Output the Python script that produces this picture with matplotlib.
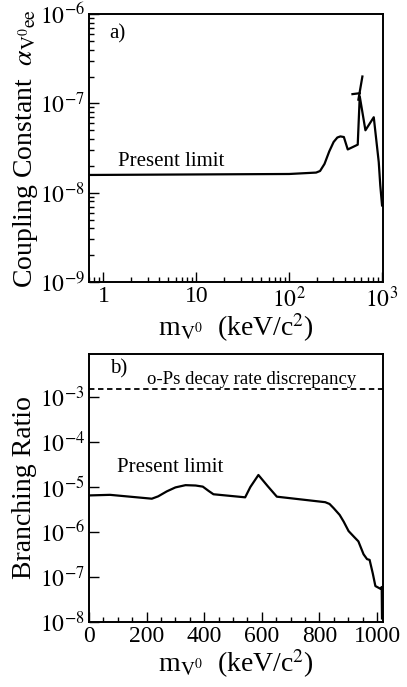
import matplotlib
matplotlib.use("Agg")
import matplotlib.pyplot as plt
import numpy as np
from matplotlib.ticker import LogLocator, FixedLocator, FixedFormatter, MultipleLocator, NullFormatter

plt.rcParams['font.family'] = ['Liberation Serif', 'DejaVu Serif']
plt.rcParams['mathtext.fontset'] = 'stix'

# Panel a: coupling constant limit vs mass (log-log)
mass_a = [0.7, 100, 195, 215, 240, 270, 301, 330, 356, 388, 427, 547, 575, 662, 814,
          921, 957, 1000]
alpha_a = [1.58e-8, 1.62e-8, 1.68e-8, 1.75e-8, 2.1e-8, 2.9e-8, 3.7e-8, 4.15e-8,
           4.27e-8, 4.2e-8, 3.05e-8, 3.45e-8, 1.2e-7, 5.0e-8, 7.0e-8, 2.2e-8, 1.2e-8, 7.2e-9]
# extra small segments near the peak
mass_a2 = [480, 575]
alpha_a2 = [1.27e-7, 1.3e-7]
mass_a3 = [556, 614]
alpha_a3 = [1.1e-7, 2.0e-7]

xticks_a = [1, 10, 100, 1000]
xticklabels_a = ['1', '10', r'$10^{2}$', r'$10^{3}$']
yticks_a = [1e-9, 1e-8, 1e-7, 1e-6]
yticklabels_a = [r'$10^{-9}$', r'$10^{-8}$', r'$10^{-7}$', r'$10^{-6}$']

# Panel b: branching ratio vs mass (linear x, log y)
mass_b = [0, 73, 218, 240, 270, 300, 335, 370, 395, 415, 432, 542, 560, 588, 620, 652,
          820, 835, 849, 870, 884, 901, 920, 935, 953, 965, 974, 985, 994, 1011, 1016, 1017]
br_b = [6.5e-6, 6.7e-6, 5.5e-6, 6.2e-6, 8.0e-6, 9.8e-6, 1.1e-5, 1.08e-5, 1.02e-5, 8.2e-6,
        6.9e-6, 5.9e-6, 1.0e-5, 1.85e-5, 1.05e-5, 6.1e-6,
        4.6e-6, 4.2e-6, 3.4e-6, 2.4e-6, 1.7e-6, 1.05e-6, 7.8e-7, 6.2e-7, 3.2e-7, 2.5e-7,
        2.4e-7, 1.2e-7, 6.3e-8, 5.5e-8, 6.0e-8, 1.2e-8]
ops_discrepancy = 1.5e-3
xticks_b = [0, 200, 400, 600, 800, 1000]
xticklabels_b = ['0', '200', '400', '600', '800', '1000']
yticks_b = [1e-8, 1e-7, 1e-6, 1e-5, 1e-4, 1e-3]
yticklabels_b = [r'$10^{-8}$', r'$10^{-7}$', r'$10^{-6}$', r'$10^{-5}$', r'$10^{-4}$', r'$10^{-3}$']

fig = plt.figure(figsize=(4.07, 6.87), dpi=100)
axa = fig.add_axes([0.2187, 0.5895, 0.722, 0.390])
axb = fig.add_axes([0.2187, 0.0946, 0.722, 0.390])

lw = 1.6
tick_fs = 17
label_fs = 20
text_fs = 15

xlab = r'm$_{\mathrm{V}^0}$  (keV/c$^2$)'

# ---- panel a
axa.plot(mass_a, alpha_a, color='black', lw=lw)
axa.plot(mass_a2, alpha_a2, color='black', lw=lw)
axa.plot(mass_a3, alpha_a3, color='black', lw=lw)
axa.set_xscale('log')
axa.set_yscale('log')
axa.set_xlim(0.7, 1020)
axa.set_ylim(1e-9, 1e-6)
axa.xaxis.set_major_locator(FixedLocator(xticks_a))
axa.xaxis.set_major_formatter(FixedFormatter(xticklabels_a))
axa.xaxis.set_minor_locator(LogLocator(base=10, subs=np.arange(2, 10)))
axa.xaxis.set_minor_formatter(NullFormatter())
axa.yaxis.set_major_locator(FixedLocator(yticks_a))
axa.yaxis.set_major_formatter(FixedFormatter(yticklabels_a))
axa.yaxis.set_minor_locator(LogLocator(base=10, subs=np.arange(2, 10)))
axa.yaxis.set_minor_formatter(NullFormatter())
axa.set_xlabel(xlab, fontsize=label_fs, labelpad=0)
axa.set_ylabel(r'Coupling Constant  $\alpha_{\mathrm{V}^0\mathrm{ee}}$', fontsize=label_fs, labelpad=0)
axa.text(0.07, 0.925, 'a)', transform=axa.transAxes, fontsize=text_fs, va='center')
axa.text(0.10, 0.45, 'Present limit', transform=axa.transAxes, fontsize=text_fs, va='center')

# ---- panel b
axb.plot(mass_b, br_b, color='black', lw=lw)
axb.axhline(ops_discrepancy, color='black', lw=1.3, ls=(0, (3, 2)))
axb.set_yscale('log')
axb.set_xlim(0, 1020)
axb.set_ylim(1e-8, 9e-3)
axb.xaxis.set_major_locator(FixedLocator(xticks_b))
axb.xaxis.set_major_formatter(FixedFormatter(xticklabels_b))
axb.xaxis.set_minor_locator(MultipleLocator(50))
axb.yaxis.set_major_locator(FixedLocator(yticks_b))
axb.yaxis.set_major_formatter(FixedFormatter(yticklabels_b))
axb.yaxis.set_minor_locator(LogLocator(base=10, subs=np.arange(2, 10)))
axb.yaxis.set_minor_formatter(NullFormatter())
axb.set_xlabel(xlab, fontsize=label_fs, labelpad=0)
axb.set_ylabel('Branching Ratio', fontsize=label_fs, labelpad=2)
axb.text(0.07, 0.945, 'b)', transform=axb.transAxes, fontsize=text_fs, va='center')
axb.text(0.555, 0.905, 'o-Ps decay rate discrepancy', transform=axb.transAxes,
         fontsize=13.5, ha='center', va='center')
axb.text(0.095, 0.578, 'Present limit', transform=axb.transAxes, fontsize=text_fs, va='center')

for ax in (axa, axb):
    for s in ax.spines.values():
        s.set_linewidth(1.4)
    ax.tick_params(which='both', direction='in', top=False, right=False,
                   labelsize=tick_fs, width=1.0, pad=3)
    ax.tick_params(which='major', length=7)
    ax.tick_params(which='minor', length=3.5)

fig.savefig('out.png', dpi=100)
